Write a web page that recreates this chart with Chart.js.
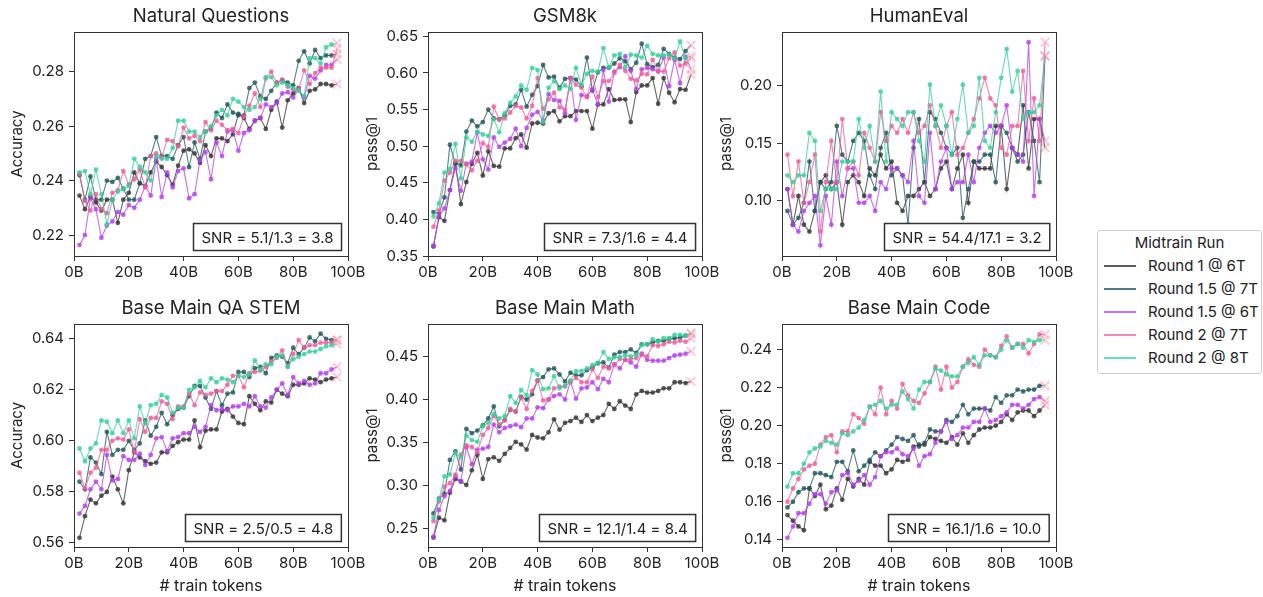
<!DOCTYPE html>
<html>
<head>
<meta charset="utf-8">
<script src="https://cdn.jsdelivr.net/npm/chart.js@4.4.1/dist/chart.umd.min.js"></script>
<style>
  body { margin: 0; background: #fff; font-family: Inter, "DejaVu Sans", sans-serif; color: #222; }
  #page { position: relative; width: 1263px; height: 597px; overflow: hidden; }
  canvas { position: absolute; }
  #legend { position: absolute; left: 1097px; top: 230px; width: 163px; height: 142px;
            border: 1px solid #cfcfcf; border-radius: 3px; background: #fff; }
  #legend .ttl { position: absolute; left: 0; width: 100%; top: 3px; text-align: center; font-size: 15px; line-height: 18px; }
  #legend .row { position: absolute; left: 0; width: 100%; height: 18px; }
  #legend .swatch { position: absolute; left: 6px; top: 8px; width: 32px; height: 1.5px; }
  #legend .lbl { position: absolute; left: 50px; top: 0; font-size: 15px; line-height: 18px; white-space: nowrap; }
</style>
</head>
<body>
<div id="page">
  <canvas id="c0" width="369" height="286" style="left:0px;top:0px"></canvas>
  <canvas id="c1" width="368" height="286" style="left:355px;top:0px"></canvas>
  <canvas id="c2" width="368" height="286" style="left:709px;top:0px"></canvas>
  <canvas id="c3" width="369" height="305" style="left:0px;top:292px"></canvas>
  <canvas id="c4" width="368" height="305" style="left:355px;top:292px"></canvas>
  <canvas id="c5" width="368" height="305" style="left:709px;top:292px"></canvas>
  <div id="legend"><div class="ttl">Midtrain Run</div></div>
</div>
<script>
// checkpoints, billions of train tokens
const steps = [2, 4, 6, 8, 10, 12, 14, 16, 18, 20, 22, 24, 26, 28, 30, 32, 34, 36, 38, 40, 42, 44, 46, 48,
  50, 52, 54, 56, 58, 60, 62, 64, 66, 68, 70, 72, 74, 76, 78, 80, 82, 84, 86, 88, 90, 92, 94, 96];
const xTicks = [0, 20, 40, 60, 80, 100];

const runNames = ["Round 1 @ 6T", "Round 1.5 @ 7T", "Round 1.5 @ 6T", "Round 2 @ 7T", "Round 2 @ 8T"];

// Natural Questions
const nqR1at6 = [0.2345, 0.2295, 0.234, 0.232, 0.229, 0.233, 0.233, 0.2245, 0.233, 0.2355, 0.243, 0.239, 0.238, 0.243, 0.247, 0.245, 0.242, 0.2385, 0.2455, 0.251, 0.2515, 0.250, 0.2465, 0.253, 0.249, 0.2555, 0.2555, 0.2545, 0.257, 0.2645, 0.263, 0.259, 0.262, 0.263, 0.259, 0.266, 0.269, 0.2595, 0.2695, 0.272, 0.274, 0.2685, 0.273, 0.2735, 0.2755, 0.2755, 0.275, 0.2755];
const nqR15at7 = [0.242, 0.233, 0.2415, 0.233, 0.233, 0.240, 0.2395, 0.241, 0.237, 0.233, 0.233, 0.239, 0.248, 0.249, 0.256, 0.249, 0.249, 0.248, 0.253, 0.256, 0.245, 0.254, 0.248, 0.258, 0.259, 0.265, 0.263, 0.268, 0.265, 0.264, 0.264, 0.274, 0.276, 0.271, 0.270, 0.273, 0.276, 0.277, 0.276, 0.275, 0.284, 0.2875, 0.283, 0.288, 0.285, 0.286, 0.286, 0.2865];
const nqR15at6 = [0.2163, 0.220, 0.2335, 0.2295, 0.219, 0.2235, 0.225, 0.2285, 0.2275, 0.231, 0.230, 0.233, 0.238, 0.2345, 0.248, 0.234, 0.243, 0.2375, 0.2435, 0.2445, 0.2335, 0.235, 0.2475, 0.2505, 0.2405, 0.254, 0.249, 0.258, 0.2585, 0.251, 0.2575, 0.2585, 0.262, 0.263, 0.268, 0.267, 0.2685, 0.272, 0.2725, 0.2705, 0.2735, 0.2705, 0.2785, 0.2775, 0.2805, 0.2825, 0.2825, 0.2845];
const nqR2at7 = [0.2425, 0.2325, 0.229, 0.235, 0.2295, 0.228, 0.2355, 0.2365, 0.2435, 0.2385, 0.2405, 0.244, 0.2375, 0.249, 0.250, 0.2485, 0.255, 0.2545, 0.2525, 0.2595, 0.2555, 0.2565, 0.2545, 0.2615, 0.2585, 0.262, 0.2605, 0.2585, 0.259, 0.2575, 0.2635, 0.2675, 0.272, 0.267, 0.2775, 0.280, 0.276, 0.277, 0.2745, 0.2735, 0.2735, 0.2805, 0.2755, 0.2795, 0.2815, 0.2815, 0.2815, 0.2885];
const nqR2at8 = [0.243, 0.2435, 0.235, 0.244, 0.235, 0.224, 0.233, 0.236, 0.237, 0.238, 0.248, 0.245, 0.243, 0.240, 0.249, 0.248, 0.248, 0.252, 0.262, 0.262, 0.258, 0.258, 0.256, 0.258, 0.260, 0.264, 0.266, 0.264, 0.270, 0.269, 0.267, 0.266, 0.267, 0.270, 0.278, 0.278, 0.275, 0.276, 0.275, 0.274, 0.273, 0.271, 0.285, 0.285, 0.283, 0.289, 0.290, 0.2905];

// GSM8k
const gsmR1at6 = [0.363, 0.403, 0.398, 0.440, 0.477, 0.421, 0.451, 0.476, 0.491, 0.460, 0.493, 0.473, 0.472, 0.497, 0.497, 0.511, 0.516, 0.498, 0.531, 0.532, 0.531, 0.545, 0.548, 0.534, 0.541, 0.541, 0.548, 0.548, 0.548, 0.524, 0.557, 0.557, 0.578, 0.563, 0.564, 0.564, 0.533, 0.574, 0.583, 0.583, 0.593, 0.558, 0.593, 0.573, 0.560, 0.578, 0.577, 0.598];
const gsmR15at7 = [0.410, 0.408, 0.430, 0.502, 0.476, 0.474, 0.520, 0.535, 0.527, 0.533, 0.550, 0.538, 0.537, 0.542, 0.555, 0.557, 0.577, 0.554, 0.570, 0.582, 0.611, 0.594, 0.595, 0.580, 0.592, 0.593, 0.591, 0.582, 0.621, 0.576, 0.601, 0.607, 0.607, 0.613, 0.620, 0.616, 0.605, 0.614, 0.640, 0.612, 0.608, 0.611, 0.633, 0.626, 0.621, 0.619, 0.630, 0.638];
const gsmR15at6 = [0.364, 0.405, 0.415, 0.440, 0.470, 0.439, 0.476, 0.479, 0.519, 0.482, 0.468, 0.512, 0.499, 0.505, 0.510, 0.524, 0.500, 0.525, 0.543, 0.547, 0.535, 0.571, 0.563, 0.562, 0.545, 0.593, 0.536, 0.570, 0.568, 0.578, 0.557, 0.604, 0.561, 0.602, 0.608, 0.623, 0.603, 0.578, 0.605, 0.607, 0.605, 0.602, 0.621, 0.582, 0.618, 0.586, 0.622, 0.605];
const gsmR2at7 = [0.390, 0.412, 0.453, 0.464, 0.480, 0.480, 0.475, 0.467, 0.480, 0.504, 0.499, 0.554, 0.536, 0.538, 0.546, 0.555, 0.553, 0.538, 0.555, 0.593, 0.551, 0.564, 0.573, 0.553, 0.550, 0.592, 0.584, 0.580, 0.567, 0.595, 0.567, 0.589, 0.589, 0.600, 0.611, 0.603, 0.592, 0.590, 0.599, 0.598, 0.618, 0.603, 0.602, 0.620, 0.628, 0.610, 0.613, 0.620];
const gsmR2at8 = [0.404, 0.422, 0.464, 0.469, 0.503, 0.456, 0.512, 0.506, 0.520, 0.516, 0.514, 0.537, 0.519, 0.545, 0.559, 0.568, 0.583, 0.577, 0.607, 0.604, 0.533, 0.580, 0.589, 0.578, 0.583, 0.578, 0.607, 0.584, 0.599, 0.603, 0.602, 0.634, 0.608, 0.624, 0.626, 0.608, 0.625, 0.624, 0.621, 0.637, 0.626, 0.624, 0.624, 0.625, 0.620, 0.643, 0.620, 0.623];

// HumanEval
const heR1at6 = [0.110, 0.079, 0.104, 0.079, 0.073, 0.091, 0.116, 0.122, 0.110, 0.116, 0.079, 0.116, 0.122, 0.116, 0.104, 0.128, 0.122, 0.140, 0.128, 0.134, 0.098, 0.091, 0.104, 0.104, 0.110, 0.116, 0.104, 0.110, 0.128, 0.134, 0.110, 0.128, 0.140, 0.098, 0.134, 0.128, 0.128, 0.128, 0.165, 0.165, 0.110, 0.146, 0.140, 0.183, 0.128, 0.171, 0.171, 0.146];
const heR15at7 = [0.091, 0.079, 0.085, 0.098, 0.134, 0.091, 0.116, 0.110, 0.116, 0.165, 0.140, 0.134, 0.152, 0.159, 0.152, 0.122, 0.110, 0.146, 0.159, 0.122, 0.128, 0.122, 0.079, 0.146, 0.171, 0.116, 0.177, 0.171, 0.159, 0.146, 0.140, 0.146, 0.085, 0.110, 0.134, 0.134, 0.140, 0.140, 0.116, 0.165, 0.159, 0.146, 0.134, 0.140, 0.177, 0.152, 0.116, 0.226];
const heR15at6 = [0.110, 0.079, 0.073, 0.091, 0.098, 0.104, 0.061, 0.104, 0.079, 0.134, 0.104, 0.128, 0.128, 0.098, 0.098, 0.104, 0.091, 0.116, 0.110, 0.128, 0.128, 0.122, 0.116, 0.152, 0.104, 0.098, 0.159, 0.110, 0.134, 0.146, 0.110, 0.116, 0.116, 0.140, 0.116, 0.146, 0.159, 0.165, 0.159, 0.165, 0.183, 0.146, 0.140, 0.134, 0.238, 0.104, 0.171, 0.152];
const heR2at7 = [0.140, 0.104, 0.134, 0.098, 0.116, 0.140, 0.073, 0.116, 0.152, 0.116, 0.171, 0.128, 0.134, 0.122, 0.159, 0.146, 0.134, 0.177, 0.152, 0.165, 0.159, 0.171, 0.159, 0.177, 0.159, 0.165, 0.183, 0.165, 0.146, 0.165, 0.177, 0.140, 0.146, 0.159, 0.171, 0.189, 0.207, 0.189, 0.183, 0.146, 0.140, 0.165, 0.165, 0.213, 0.152, 0.189, 0.152, 0.238];
const heR2at8 = [0.122, 0.116, 0.122, 0.122, 0.159, 0.152, 0.091, 0.110, 0.110, 0.110, 0.134, 0.134, 0.134, 0.171, 0.146, 0.165, 0.134, 0.195, 0.134, 0.177, 0.171, 0.165, 0.177, 0.177, 0.152, 0.134, 0.201, 0.165, 0.183, 0.165, 0.140, 0.171, 0.201, 0.159, 0.165, 0.207, 0.152, 0.146, 0.177, 0.207, 0.232, 0.195, 0.213, 0.171, 0.177, 0.177, 0.183, 0.226];

// Base Main QA STEM
const qaR1at6 = [0.562, 0.5705, 0.577, 0.5755, 0.5785, 0.580, 0.586, 0.581, 0.5755, 0.5885, 0.5955, 0.5935, 0.592, 0.591, 0.5915, 0.5955, 0.5955, 0.598, 0.5995, 0.6005, 0.6005, 0.608, 0.5975, 0.604, 0.6045, 0.6045, 0.6115, 0.6125, 0.6095, 0.607, 0.6065, 0.6175, 0.6145, 0.612, 0.6155, 0.615, 0.620, 0.6185, 0.6175, 0.622, 0.622, 0.6225, 0.6245, 0.624, 0.623, 0.624, 0.6245, 0.625];
const qaR15at7 = [0.584, 0.581, 0.5935, 0.5915, 0.587, 0.6035, 0.5945, 0.5965, 0.5965, 0.600, 0.5965, 0.599, 0.608, 0.602, 0.6055, 0.611, 0.6065, 0.610, 0.6125, 0.613, 0.6175, 0.6215, 0.6215, 0.617, 0.6125, 0.6195, 0.614, 0.6185, 0.619, 0.627, 0.627, 0.625, 0.6285, 0.629, 0.6265, 0.6325, 0.6335, 0.633, 0.6305, 0.6365, 0.634, 0.6365, 0.6405, 0.639, 0.642, 0.640, 0.6395, 0.6395];
const qaR15at6 = [0.5715, 0.5745, 0.581, 0.584, 0.581, 0.5945, 0.5845, 0.585, 0.594, 0.5925, 0.5925, 0.595, 0.5905, 0.5945, 0.601, 0.6015, 0.596, 0.601, 0.6015, 0.603, 0.603, 0.6055, 0.6035, 0.6055, 0.614, 0.612, 0.6125, 0.612, 0.6135, 0.6135, 0.6145, 0.6135, 0.6175, 0.6135, 0.613, 0.617, 0.620, 0.6225, 0.618, 0.625, 0.6225, 0.6235, 0.622, 0.6225, 0.6265, 0.6265, 0.628, 0.629];
const qaR2at7 = [0.5875, 0.5815, 0.5875, 0.5895, 0.5965, 0.5965, 0.600, 0.601, 0.6005, 0.6045, 0.5955, 0.6085, 0.6035, 0.609, 0.609, 0.6155, 0.6145, 0.6085, 0.6135, 0.6135, 0.6185, 0.614, 0.619, 0.618, 0.6185, 0.6195, 0.6195, 0.622, 0.6255, 0.6255, 0.621, 0.6265, 0.627, 0.6275, 0.629, 0.631, 0.6325, 0.6355, 0.629, 0.634, 0.6395, 0.6365, 0.6375, 0.6375, 0.6385, 0.6385, 0.6385, 0.6395];
const qaR2at8 = [0.597, 0.592, 0.597, 0.599, 0.608, 0.6075, 0.603, 0.608, 0.603, 0.608, 0.601, 0.6135, 0.607, 0.614, 0.6145, 0.618, 0.617, 0.611, 0.613, 0.613, 0.620, 0.621, 0.6235, 0.621, 0.6245, 0.623, 0.6245, 0.624, 0.623, 0.6255, 0.625, 0.626, 0.6315, 0.628, 0.630, 0.630, 0.633, 0.6335, 0.629, 0.632, 0.633, 0.634, 0.635, 0.635, 0.636, 0.637, 0.6375, 0.638];

// Base Main Math
const mathR1at6 = [0.240, 0.263, 0.260, 0.292, 0.308, 0.305, 0.301, 0.318, 0.336, 0.308, 0.331, 0.333, 0.329, 0.337, 0.344, 0.351, 0.348, 0.342, 0.359, 0.356, 0.355, 0.362, 0.377, 0.365, 0.373, 0.375, 0.379, 0.374, 0.382, 0.375, 0.379, 0.382, 0.395, 0.389, 0.398, 0.393, 0.389, 0.406, 0.410, 0.408, 0.408, 0.410, 0.413, 0.413, 0.420, 0.420, 0.419, 0.421];
const mathR15at7 = [0.268, 0.285, 0.291, 0.330, 0.340, 0.319, 0.366, 0.361, 0.364, 0.370, 0.378, 0.392, 0.369, 0.376, 0.388, 0.386, 0.403, 0.400, 0.406, 0.422, 0.426, 0.435, 0.436, 0.429, 0.421, 0.431, 0.428, 0.428, 0.434, 0.437, 0.442, 0.443, 0.437, 0.452, 0.455, 0.455, 0.458, 0.454, 0.464, 0.464, 0.466, 0.468, 0.468, 0.470, 0.471, 0.472, 0.474, 0.476];
const mathR15at6 = [0.241, 0.272, 0.288, 0.294, 0.311, 0.305, 0.345, 0.325, 0.342, 0.343, 0.345, 0.371, 0.362, 0.367, 0.369, 0.371, 0.368, 0.378, 0.378, 0.391, 0.390, 0.400, 0.404, 0.406, 0.400, 0.421, 0.401, 0.413, 0.414, 0.420, 0.412, 0.424, 0.420, 0.441, 0.436, 0.446, 0.443, 0.438, 0.453, 0.446, 0.445, 0.445, 0.445, 0.448, 0.451, 0.452, 0.453, 0.456];
const mathR2at7 = [0.259, 0.282, 0.299, 0.303, 0.313, 0.336, 0.347, 0.345, 0.339, 0.359, 0.367, 0.381, 0.371, 0.376, 0.389, 0.386, 0.402, 0.389, 0.410, 0.422, 0.399, 0.400, 0.413, 0.415, 0.415, 0.420, 0.425, 0.420, 0.420, 0.435, 0.425, 0.438, 0.436, 0.440, 0.447, 0.446, 0.447, 0.448, 0.452, 0.450, 0.463, 0.462, 0.464, 0.467, 0.466, 0.468, 0.467, 0.471];
const mathR2at8 = [0.263, 0.284, 0.311, 0.313, 0.338, 0.333, 0.358, 0.353, 0.351, 0.369, 0.373, 0.383, 0.378, 0.381, 0.404, 0.396, 0.411, 0.405, 0.434, 0.429, 0.412, 0.413, 0.427, 0.413, 0.416, 0.422, 0.433, 0.433, 0.436, 0.440, 0.442, 0.455, 0.447, 0.449, 0.449, 0.451, 0.450, 0.452, 0.463, 0.464, 0.470, 0.467, 0.471, 0.471, 0.475, 0.475, 0.474, 0.477];

// Base Main Code
const codeR1at6 = [0.153, 0.150, 0.147, 0.145, 0.167, 0.163, 0.169, 0.156, 0.158, 0.167, 0.161, 0.172, 0.168, 0.172, 0.169, 0.181, 0.179, 0.179, 0.175, 0.177, 0.182, 0.181, 0.182, 0.189, 0.190, 0.190, 0.194, 0.193, 0.192, 0.191, 0.194, 0.190, 0.196, 0.191, 0.195, 0.198, 0.199, 0.199, 0.200, 0.202, 0.206, 0.203, 0.207, 0.208, 0.208, 0.205, 0.208, 0.211];
const codeR15at7 = [0.157, 0.160, 0.165, 0.167, 0.167, 0.175, 0.175, 0.174, 0.173, 0.181, 0.181, 0.176, 0.187, 0.176, 0.179, 0.182, 0.186, 0.184, 0.187, 0.190, 0.194, 0.193, 0.192, 0.195, 0.189, 0.191, 0.198, 0.197, 0.197, 0.203, 0.202, 0.205, 0.211, 0.206, 0.209, 0.209, 0.209, 0.208, 0.215, 0.212, 0.216, 0.216, 0.219, 0.218, 0.219, 0.219, 0.221, 0.221];
const codeR15at6 = [0.141, 0.147, 0.154, 0.154, 0.159, 0.164, 0.164, 0.159, 0.165, 0.166, 0.174, 0.175, 0.169, 0.171, 0.174, 0.169, 0.173, 0.184, 0.186, 0.186, 0.188, 0.185, 0.184, 0.188, 0.179, 0.184, 0.185, 0.191, 0.197, 0.202, 0.193, 0.195, 0.199, 0.199, 0.202, 0.202, 0.209, 0.202, 0.203, 0.205, 0.207, 0.211, 0.211, 0.209, 0.211, 0.214, 0.215, 0.213];
const codeR2at7 = [0.160, 0.167, 0.172, 0.177, 0.179, 0.180, 0.190, 0.194, 0.195, 0.186, 0.197, 0.197, 0.206, 0.204, 0.201, 0.210, 0.206, 0.220, 0.206, 0.213, 0.209, 0.222, 0.216, 0.213, 0.212, 0.217, 0.223, 0.231, 0.219, 0.231, 0.220, 0.223, 0.231, 0.235, 0.232, 0.231, 0.240, 0.237, 0.236, 0.242, 0.247, 0.241, 0.243, 0.243, 0.238, 0.243, 0.248, 0.248];
const codeR2at8 = [0.168, 0.175, 0.175, 0.180, 0.186, 0.188, 0.189, 0.192, 0.191, 0.190, 0.196, 0.195, 0.197, 0.199, 0.203, 0.210, 0.211, 0.213, 0.209, 0.211, 0.211, 0.218, 0.214, 0.209, 0.219, 0.223, 0.223, 0.230, 0.229, 0.227, 0.226, 0.226, 0.231, 0.233, 0.236, 0.232, 0.237, 0.237, 0.236, 0.240, 0.245, 0.241, 0.243, 0.241, 0.245, 0.244, 0.245, 0.245];

// y tick labels per panel
const nqTicks = [0.22, 0.24, 0.26, 0.28];
const gsmTicks = [0.35, 0.40, 0.45, 0.50, 0.55, 0.60, 0.65];
const heTicks = [0.10, 0.15, 0.20];
const qaTicks = [0.56, 0.58, 0.60, 0.62, 0.64];
const mathTicks = [0.25, 0.30, 0.35, 0.40, 0.45];
const codeTicks = [0.14, 0.16, 0.18, 0.20, 0.22, 0.24];

const runColors = [
  { line: "rgba(50,50,50,0.75)", dot: "rgba(50,50,50,0.8)", key: "#5e5e5e" },
  { line: "rgba(30,85,92,0.75)", dot: "rgba(30,85,92,0.8)", key: "#4f7c80" },
  { line: "rgba(180,60,240,0.75)", dot: "rgba(180,60,240,0.8)", key: "#c86cf2" },
  { line: "rgba(242,90,155,0.75)", dot: "rgba(242,90,155,0.8)", key: "#f38bbb" },
  { line: "rgba(50,210,150,0.75)", dot: "rgba(50,210,150,0.8)", key: "#63e0b6" },
];
const finalMark = "rgba(255,140,165,0.45)";

const panels = [
  { title: "Natural Questions", yLabel: "Accuracy", snr: "SNR = 5.1/1.3 = 3.8", min: 0.2123, max: 0.2946, ticks: nqTicks, dec: 2,
    series: [nqR1at6, nqR15at7, nqR15at6, nqR2at7, nqR2at8], xLabel: "", yW: 74 },
  { title: "GSM8k", yLabel: "pass@1", snr: "SNR = 7.3/1.6 = 4.4", min: 0.35, max: 0.656, ticks: gsmTicks, dec: 2,
    series: [gsmR1at6, gsmR15at7, gsmR15at6, gsmR2at7, gsmR2at8], xLabel: "", yW: 73 },
  { title: "HumanEval", yLabel: "pass@1", snr: "SNR = 54.4/17.1 = 3.2", min: 0.0517, max: 0.2469, ticks: heTicks, dec: 2,
    series: [heR1at6, heR15at7, heR15at6, heR2at7, heR2at8], xLabel: "", yW: 73 },
  { title: "Base Main QA STEM", yLabel: "Accuracy", snr: "SNR = 2.5/0.5 = 4.8", min: 0.5584, max: 0.6458, ticks: qaTicks, dec: 2,
    series: [qaR1at6, qaR15at7, qaR15at6, qaR2at7, qaR2at8], xLabel: "# train tokens", yW: 74 },
  { title: "Base Main Math", yLabel: "pass@1", snr: "SNR = 12.1/1.4 = 8.4", min: 0.2291, max: 0.4875, ticks: mathTicks, dec: 2,
    series: [mathR1at6, mathR15at7, mathR15at6, mathR2at7, mathR2at8], xLabel: "# train tokens", yW: 73 },
  { title: "Base Main Code", yLabel: "pass@1", snr: "SNR = 16.1/1.6 = 10.0", min: 0.1362, max: 0.2535, ticks: codeTicks, dec: 2,
    series: [codeR1at6, codeR15at7, codeR15at6, codeR2at7, codeR2at8], xLabel: "# train tokens", yW: 73 },
];

const FONT = "Inter, 'DejaVu Sans', sans-serif";

// frame, panel title and the SNR box
const panelDecor = {
  id: "panelDecor",
  afterDraw(chart, args, opts) {
    const { ctx, chartArea: a } = chart;
    ctx.save();
    ctx.strokeStyle = "#333";
    ctx.lineWidth = 1;
    ctx.strokeRect(Math.round(a.left) + 0.5, Math.round(a.top) + 0.5,
      Math.round(a.right - a.left), Math.round(a.bottom - a.top));

    ctx.fillStyle = "#222";
    ctx.font = "18.5px " + FONT;
    ctx.textAlign = "center";
    ctx.textBaseline = "middle";
    ctx.fillText(opts.title, (a.left + a.right) / 2, a.top - 16);

    ctx.font = "15px " + FONT;
    const w = ctx.measureText(opts.snr).width + 16;
    const h = 27;
    const x = Math.round(a.right - 7 - w) + 0.5;
    const y = Math.round(a.bottom - 6 - h) + 0.5;
    ctx.fillStyle = "#fff";
    ctx.fillRect(x, y, w, h);
    ctx.lineWidth = 1.5;
    ctx.strokeStyle = "#333";
    ctx.strokeRect(x, y, w, h);
    ctx.fillStyle = "#222";
    ctx.textAlign = "left";
    ctx.fillText(opts.snr, x + 8, y + h / 2 + 1);
    ctx.restore();
  }
};

function makeDataset(values, i) {
  const last = values.length - 1;
  const c = runColors[i];
  return {
    label: runNames[i],
    data: values.map((v, k) => ({ x: steps[k], y: v })),
    borderColor: c.line,
    borderWidth: 1.1,
    backgroundColor: c.dot,
    pointStyle: values.map((v, k) => (k === last ? "crossRot" : "circle")),
    pointRadius: values.map((v, k) => (k === last ? 6 : 2.4)),
    pointBorderWidth: values.map((v, k) => (k === last ? 2 : 0)),
    pointBorderColor: values.map((v, k) => (k === last ? finalMark : c.dot)),
    pointBackgroundColor: values.map((v, k) => (k === last ? finalMark : c.dot)),
    tension: 0,
    order: 5 - i,
  };
}

panels.forEach((p, idx) => {
  const bottomRow = idx >= 3;
  const ctx = document.getElementById("c" + idx).getContext("2d");
  new Chart(ctx, {
    type: "line",
    data: { datasets: p.series.map(makeDataset) },
    plugins: [panelDecor],
    options: {
      responsive: false,
      devicePixelRatio: 1,
      animation: false,
      layout: { padding: { top: 32, right: 21, left: 0, bottom: 0 } },
      plugins: {
        legend: { display: false },
        tooltip: { enabled: false },
        panelDecor: { title: p.title, snr: p.snr },
      },
      scales: {
        x: {
          type: "linear",
          min: 0,
          max: 100,
          afterBuildTicks: (s) => { s.ticks = xTicks.map((v) => ({ value: v })); },
          afterFit: (s) => { s.height = bottomRow ? 50 : 30; },
          ticks: { callback: (v) => v + "B", color: "#222", font: { family: FONT, size: 15 }, padding: 2, maxRotation: 0 },
          grid: { drawOnChartArea: false, drawTicks: true, tickLength: 5, color: "#333" },
          border: { display: false },
          title: { display: bottomRow, text: p.xLabel, color: "#222", font: { family: FONT, size: 16 }, padding: { top: 0, bottom: 1 } },
        },
        y: {
          min: p.min,
          max: p.max,
          afterBuildTicks: (s) => { s.ticks = p.ticks.map((v) => ({ value: v })); },
          afterFit: (s) => { s.width = p.yW; },
          ticks: { callback: (v) => Number(v).toFixed(p.dec), color: "#222", font: { family: FONT, size: 15 }, padding: 5 },
          grid: { drawOnChartArea: false, drawTicks: true, tickLength: 5, color: "#333" },
          border: { display: false },
          title: { display: true, text: p.yLabel, color: "#222", font: { family: FONT, size: 15 }, padding: { top: 8, bottom: 0 } },
        },
      },
    },
  });
});

// legend
const legend = document.getElementById("legend");
const rowTops = [26, 49, 72, 95, 118];
runNames.forEach((name, i) => {
  const row = document.createElement("div");
  row.className = "row";
  row.style.top = rowTops[i] + "px";
  row.innerHTML = '<div class="swatch" style="background:' + runColors[i].key + '"></div><div class="lbl">' + name + "</div>";
  legend.appendChild(row);
});
</script>
</body>
</html>
